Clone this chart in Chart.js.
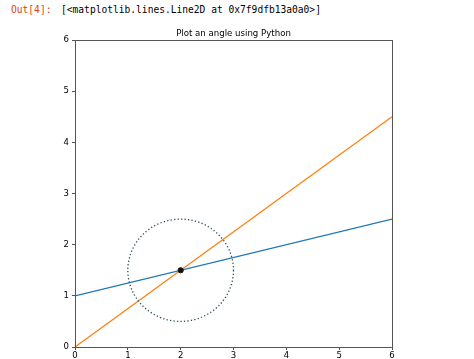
<!DOCTYPE html>
<html>
<head>
<meta charset="utf-8">
<script src="https://cdn.jsdelivr.net/npm/chart.js@4"></script>
<style>
  html, body { margin: 0; padding: 0; background: #fff; overflow: hidden; }
  #wrap { position: relative; width: 474px; height: 359px; }
  #prompt, #out {
    position: absolute; top: 4px;
    font-family: "DejaVu Sans Mono", monospace; font-size: 9.6px; white-space: pre;
  }
  #prompt { left: 11px; color: #d84315; }
  #out { left: 61px; color: #000; }
  canvas { position: absolute; left: 0; top: 0; }
</style>
</head>
<body>
<div id="wrap">
  <div id="prompt">Out[4]:</div>
  <div id="out">[&lt;matplotlib.lines.Line2D at 0x7f9dfb13a0a0&gt;]</div>
  <canvas id="chart" width="474" height="359"></canvas>
</div>
<script>
// data
const titleText = "Plot an angle using Python";
const lineA = [{ x: 0, y: 1 }, { x: 6, y: 2.5 }];   // blue, slope 0.25
const lineB = [{ x: 0, y: 0 }, { x: 6, y: 4.5 }];   // orange, slope 0.75
const vertex = [{ x: 2, y: 1.5 }];
const circleCenter = [2, 1.5];
const circleRadius = 1;
const xTicks = [0, 1, 2, 3, 4, 5, 6];
const yTicks = [0, 1, 2, 3, 4, 5, 6];

const axisColor = "#555";
const font = { family: "DejaVu Sans", size: 8.5 };

// dotted circle around the vertex, sized in data units
const circlePlugin = {
  id: "angleCircle",
  afterDatasetsDraw(chart) {
    const { ctx, scales: { x, y } } = chart;
    const cx = x.getPixelForValue(circleCenter[0]);
    const cy = y.getPixelForValue(circleCenter[1]);
    const rx = x.getPixelForValue(circleCenter[0] + circleRadius) - cx;
    const ry = cy - y.getPixelForValue(circleCenter[1] + circleRadius);
    ctx.save();
    ctx.beginPath();
    ctx.ellipse(cx, cy, rx, ry, 0, 0, Math.PI * 2);
    ctx.setLineDash([1.3, 2.2]);
    ctx.lineWidth = 1.3;
    ctx.strokeStyle = "#2f4f5f";
    ctx.stroke();
    ctx.restore();
  },
};

// box around the plot (top and right spines) and title over the plot area
const framePlugin = {
  id: "frame",
  afterDraw(chart) {
    const { ctx, chartArea: a } = chart;
    ctx.save();
    ctx.strokeStyle = axisColor;
    ctx.lineWidth = 1;
    ctx.strokeRect(Math.round(a.left) + 0.5, Math.round(a.top) + 0.5,
      Math.round(a.right - a.left), Math.round(a.bottom - a.top));
    ctx.fillStyle = "#000";
    ctx.font = "8.6px 'DejaVu Sans'";
    ctx.textAlign = "center";
    ctx.textBaseline = "alphabetic";
    ctx.fillText(titleText, (a.left + a.right) / 2, a.top - 4);
    ctx.restore();
  },
};

new Chart(document.getElementById("chart"), {
  type: "scatter",
  data: {
    datasets: [
      {
        data: lineA,
        showLine: true,
        borderColor: "#1f77b4",
        borderWidth: 1.3,
        pointRadius: 0,
        order: 3,
      },
      {
        data: lineB,
        showLine: true,
        borderColor: "#ff7f0e",
        borderWidth: 1.3,
        pointRadius: 0,
        order: 2,
      },
      {
        data: vertex,
        pointRadius: 2.6,
        backgroundColor: "#111",
        borderColor: "#111",
        order: 1,
      },
    ],
  },
  options: {
    responsive: false,
    animation: false,
    layout: { padding: { top: 40, right: 82, bottom: 0, left: 0 } },
    plugins: {
      legend: { display: false },
      tooltip: { enabled: false },
      title: { display: false },
    },
    scales: {
      x: {
        type: "linear",
        min: 0,
        max: 6,
        afterBuildTicks: (s) => { s.ticks = xTicks.map((v) => ({ value: v })); },
        afterFit: (s) => { s.height = 12; },
        grid: { drawOnChartArea: false, drawTicks: true, tickLength: 3, color: axisColor },
        border: { display: true, color: axisColor },
        ticks: { color: "#000", font: font, padding: 1, maxRotation: 0 },
      },
      y: {
        type: "linear",
        min: 0,
        max: 6,
        afterBuildTicks: (s) => { s.ticks = yTicks.map((v) => ({ value: v })); },
        afterFit: (s) => { s.width = 75; },
        grid: { drawOnChartArea: false, drawTicks: true, tickLength: 3, color: axisColor },
        border: { display: true, color: axisColor },
        ticks: { color: "#000", font: font, padding: 3 },
      },
    },
  },
  plugins: [circlePlugin, framePlugin],
});
</script>
</body>
</html>
